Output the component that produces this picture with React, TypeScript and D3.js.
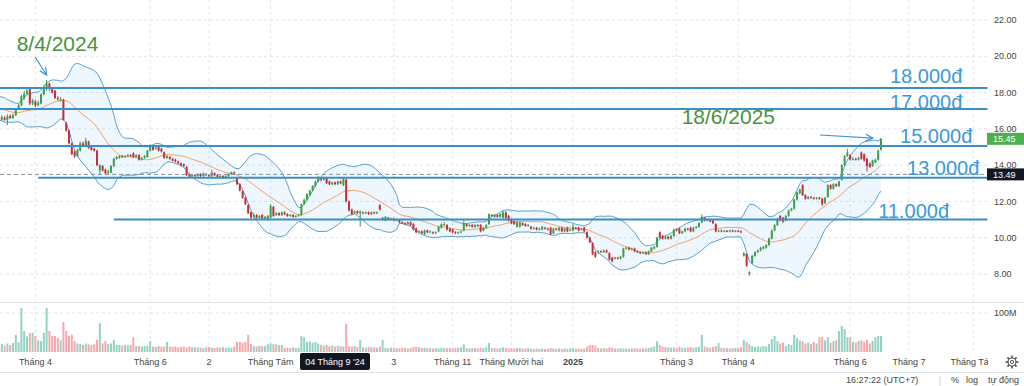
import React from "react";
import * as d3 from "d3";

// ---- OHLC + volume (one entry per trading day) ----
const opens = [
  16.60,16.50,16.60,16.50,16.70,16.60,16.75,17.10,17.30,17.70,
  17.95,18.20,17.40,17.50,17.30,17.40,17.90,18.20,18.50,18.20,
  18.10,17.70,17.55,17.60,16.30,15.90,15.20,14.70,14.50,14.80,
  15.20,15.10,15.30,15.00,14.90,14.80,13.70,13.95,13.75,13.55,
  13.60,13.95,14.35,14.40,14.50,14.45,14.50,14.55,14.65,14.45,
  14.55,14.30,14.40,14.45,14.80,15.05,14.90,15.00,14.90,14.70,
  14.40,14.45,14.35,14.30,14.20,14.10,14.05,13.90,13.50,13.40,
  13.45,13.40,13.50,13.40,13.50,13.45,13.40,13.55,13.45,13.35,
  13.40,13.30,13.40,13.50,13.60,13.30,12.95,12.55,12.20,11.80,
  11.40,11.15,11.25,11.10,11.25,11.05,11.00,11.10,11.70,11.25,
  11.35,11.25,11.40,11.30,11.20,11.25,11.15,11.20,11.25,11.85,
  12.10,12.35,12.60,12.85,13.10,13.25,13.20,13.30,13.10,12.95,
  13.05,12.95,13.10,12.90,13.20,12.00,11.55,11.35,11.45,11.35,
  11.40,11.35,11.40,11.30,11.40,11.35,11.80,11.00,10.95,11.10,
  11.00,11.05,10.95,10.95,10.85,10.80,10.75,10.85,10.75,10.50,
  10.30,10.35,10.20,10.40,10.30,10.30,10.25,10.35,10.55,10.70,
  10.70,10.50,10.45,10.30,10.25,10.30,10.40,10.75,10.65,10.70,
  10.60,10.70,10.70,10.40,10.55,10.75,11.25,11.15,11.25,11.15,
  11.10,11.40,11.20,11.00,10.90,10.60,10.60,10.80,10.75,10.65,
  10.60,10.50,10.55,10.45,10.45,10.55,10.50,10.55,10.25,10.50,
  10.40,10.55,10.35,10.55,10.40,10.40,10.55,10.55,10.45,10.55,
  10.30,10.00,9.70,9.20,9.20,9.25,9.20,9.30,9.15,8.90,
  8.85,8.90,8.85,8.95,9.40,9.45,9.35,9.40,9.25,9.20,
  9.15,9.20,9.10,9.25,9.40,9.50,10.30,10.10,9.95,10.05,
  9.95,10.10,10.45,10.50,10.25,10.35,10.50,10.55,10.35,10.55,
  10.60,10.85,11.10,10.95,11.00,10.95,10.75,10.35,10.40,10.35,
  10.38,10.35,10.40,10.35,10.38,10.35,9.00,9.10,8.00,8.60,
  9.00,9.20,9.30,9.40,9.45,9.60,9.95,10.40,10.70,11.20,
  11.10,10.95,11.20,11.50,11.60,12.10,12.45,12.90,12.35,12.15,
  12.25,12.20,12.15,12.20,12.15,11.90,12.25,12.90,12.70,12.95,
  12.85,13.20,14.00,14.50,14.55,14.30,14.35,14.30,14.70,14.60,
  14.35,14.10,13.95,14.15,14.30,14.85,
];
const highs = [
  16.80,16.75,16.70,16.80,16.80,16.85,17.15,17.40,17.90,18.10,
  18.25,18.30,17.65,17.60,17.55,17.95,18.40,18.70,18.55,18.30,
  18.15,17.80,17.75,17.65,16.40,15.95,15.25,14.80,14.90,15.30,
  15.30,15.50,15.35,15.05,14.95,14.85,14.05,14.00,13.80,13.75,
  14.00,14.40,14.50,14.55,14.55,14.55,14.60,14.60,14.70,14.60,
  14.60,14.45,14.55,14.85,15.15,15.10,15.00,15.05,14.95,14.75,
  14.55,14.50,14.40,14.35,14.25,14.15,14.10,13.95,13.55,13.50,
  13.50,13.55,13.55,13.60,13.55,13.50,13.75,13.60,13.50,13.45,
  13.45,13.45,13.55,13.65,13.65,13.35,13.00,12.60,12.25,11.85,
  11.45,11.35,11.30,11.25,11.30,11.20,11.25,11.85,11.75,11.40,
  11.40,11.45,11.45,11.35,11.30,11.30,11.25,11.30,11.90,12.15,
  12.45,12.65,12.90,13.15,13.40,13.30,13.35,13.35,13.15,13.10,
  13.10,13.15,13.15,13.30,13.25,12.05,11.60,11.50,11.50,11.50,
  11.45,11.45,11.45,11.45,11.45,11.45,11.85,11.15,11.20,11.15,
  11.10,11.10,11.05,11.00,10.90,10.85,10.90,10.90,10.80,10.55,
  10.40,10.40,10.45,10.45,10.40,10.35,10.35,10.65,10.80,10.85,
  10.75,10.55,10.50,10.35,10.35,10.40,10.95,10.80,10.75,10.75,
  10.75,10.75,10.75,10.60,10.75,11.35,11.30,11.30,11.30,11.35,
  11.50,11.45,11.25,11.05,10.95,10.90,10.90,10.85,10.80,10.75,
  10.65,10.60,10.60,10.55,10.65,10.60,10.55,10.60,10.55,10.55,
  10.60,10.60,10.55,10.60,10.50,10.75,10.60,10.60,10.55,10.60,
  10.35,10.05,9.75,9.25,9.30,9.30,9.35,9.35,9.20,8.95,
  8.95,8.95,9.00,9.45,9.50,9.50,9.45,9.45,9.30,9.25,
  9.25,9.25,9.30,9.50,9.55,10.05,10.35,10.15,10.10,10.10,
  10.15,10.50,10.50,10.55,10.40,10.55,10.55,10.60,10.60,10.65,
  10.85,11.30,11.15,11.05,11.05,11.00,10.80,10.45,10.45,10.42,
  10.42,10.45,10.45,10.42,10.42,10.40,9.20,9.15,8.15,9.05,
  9.25,9.35,9.50,9.55,9.65,10.00,10.45,10.75,11.10,11.25,
  11.15,11.25,11.55,11.65,12.15,12.55,12.70,12.95,12.40,12.30,
  12.30,12.25,12.25,12.25,12.20,12.25,12.95,12.95,13.00,13.00,
  13.15,14.05,14.55,14.90,14.60,14.45,14.40,14.45,14.75,14.65,
  14.40,14.15,14.30,14.35,14.85,15.50,
];
const lows = [
  16.40,16.45,16.45,16.20,16.55,16.55,16.70,17.05,17.25,17.60,
  17.85,17.30,17.30,17.20,17.25,17.35,17.85,18.10,18.10,17.95,
  17.65,17.55,17.50,16.45,15.85,15.15,14.55,14.40,14.45,14.75,
  15.05,15.05,14.90,14.80,14.75,13.95,13.50,13.65,13.45,13.50,
  13.55,13.90,14.30,14.35,14.40,14.40,14.45,14.45,14.40,14.40,
  14.25,14.25,14.35,14.40,14.75,14.80,14.85,14.75,14.70,14.35,
  14.35,14.30,14.20,14.15,14.05,13.95,13.90,13.40,13.30,13.30,
  13.35,13.35,13.35,13.35,13.40,13.35,13.35,13.40,13.30,13.30,
  13.25,13.25,13.35,13.45,13.45,12.90,12.55,12.15,11.80,11.30,
  11.05,11.05,11.05,11.05,11.00,11.00,10.95,11.05,11.15,11.20,
  11.20,11.20,11.25,11.15,11.15,11.10,11.10,11.15,11.20,11.80,
  12.05,12.30,12.55,12.80,13.05,13.10,13.15,12.95,12.90,12.90,
  12.90,12.90,12.95,12.85,11.95,11.45,11.25,11.30,11.30,10.60,
  11.30,11.30,11.25,11.25,11.30,11.30,11.50,10.95,10.90,10.95,
  10.95,10.90,10.90,10.80,10.75,10.70,10.70,10.65,10.40,10.25,
  10.25,10.20,10.15,10.25,10.25,10.20,10.20,10.30,10.50,10.65,
  10.40,10.30,10.25,10.20,10.20,10.25,10.35,10.60,10.60,10.55,
  10.55,10.60,10.30,10.35,10.50,10.70,11.15,11.10,11.10,11.10,
  11.05,11.05,10.90,10.75,10.70,10.55,10.55,10.65,10.60,10.60,
  10.45,10.45,10.40,10.40,10.40,10.45,10.40,10.15,10.20,10.40,
  10.35,10.30,10.30,10.30,10.35,10.35,10.45,10.35,10.40,10.30,
  9.95,9.70,9.05,8.90,9.10,9.15,9.15,9.15,8.75,8.65,
  8.80,8.80,8.80,8.90,9.35,9.30,9.30,9.20,9.15,9.10,
  9.10,9.05,9.05,9.20,9.35,9.45,9.95,9.90,9.90,9.90,
  9.90,10.05,10.35,10.20,10.20,10.30,10.40,10.30,10.30,10.50,
  10.55,10.80,10.90,10.90,10.85,10.75,10.30,10.30,10.30,10.30,
  10.30,10.30,10.30,10.30,10.30,10.25,8.95,8.40,7.90,8.55,
  8.95,9.15,9.25,9.35,9.40,9.55,9.90,10.35,10.65,10.90,
  10.80,10.90,11.15,11.45,11.55,12.05,12.40,12.30,12.10,12.10,
  12.15,12.10,12.10,12.10,11.75,11.85,12.20,12.65,12.65,12.80,
  12.80,13.15,13.95,14.45,14.25,14.25,14.25,14.25,14.30,14.20,
  13.65,13.85,13.90,14.10,14.25,14.80,
];
const closes = [
  16.50,16.65,16.50,16.70,16.60,16.75,17.10,17.30,17.80,17.95,
  18.10,17.40,17.55,17.30,17.45,17.90,18.30,18.50,18.20,18.00,
  17.70,17.65,17.60,16.50,15.90,15.20,14.60,14.50,14.85,15.20,
  15.10,15.35,14.95,14.85,14.80,14.00,14.00,13.70,13.55,13.65,
  13.95,14.35,14.45,14.50,14.45,14.50,14.55,14.50,14.45,14.55,
  14.30,14.40,14.50,14.80,15.05,14.85,14.95,14.80,14.75,14.40,
  14.50,14.35,14.25,14.20,14.10,14.00,13.95,13.45,13.35,13.45,
  13.40,13.50,13.40,13.55,13.45,13.40,13.60,13.45,13.35,13.40,
  13.30,13.40,13.50,13.60,13.55,12.95,12.60,12.20,11.85,11.35,
  11.10,11.25,11.10,11.20,11.05,11.15,11.20,11.75,11.20,11.35,
  11.25,11.40,11.30,11.20,11.25,11.15,11.20,11.25,11.85,12.10,
  12.40,12.60,12.85,13.10,13.25,13.20,13.30,13.00,12.95,13.05,
  12.95,13.10,13.00,13.25,12.00,11.50,11.30,11.45,11.35,11.45,
  11.35,11.40,11.30,11.40,11.35,11.40,11.55,11.10,11.15,11.00,
  11.05,10.95,11.00,10.85,10.80,10.75,10.85,10.70,10.45,10.30,
  10.35,10.25,10.40,10.30,10.35,10.25,10.30,10.60,10.75,10.75,
  10.45,10.35,10.30,10.25,10.30,10.35,10.80,10.65,10.70,10.60,
  10.70,10.65,10.35,10.55,10.70,11.30,11.20,11.25,11.15,11.30,
  11.40,11.10,10.95,10.80,10.75,10.85,10.85,10.70,10.65,10.70,
  10.50,10.55,10.45,10.50,10.60,10.50,10.45,10.20,10.50,10.45,
  10.55,10.35,10.50,10.35,10.45,10.60,10.50,10.40,10.50,10.35,
  10.00,9.75,9.10,8.95,9.25,9.20,9.30,9.20,8.80,8.70,
  8.90,8.85,8.95,9.40,9.45,9.35,9.40,9.25,9.20,9.15,
  9.20,9.10,9.25,9.45,9.50,10.00,10.00,9.95,10.05,9.95,
  10.10,10.45,10.40,10.25,10.35,10.50,10.45,10.35,10.55,10.60,
  10.80,11.15,10.95,11.00,10.90,10.80,10.35,10.40,10.35,10.38,
  10.35,10.40,10.35,10.38,10.35,10.30,9.15,8.45,8.10,9.00,
  9.20,9.30,9.45,9.50,9.60,9.95,10.40,10.70,11.05,10.95,
  10.90,11.20,11.50,11.60,12.10,12.50,12.65,12.35,12.15,12.25,
  12.20,12.15,12.20,12.15,11.85,12.20,12.90,12.70,12.95,12.85,
  13.10,14.00,14.50,14.70,14.30,14.35,14.30,14.40,14.35,14.25,
  13.95,13.90,14.25,14.30,14.80,15.45,
];
// volume in millions of shares
const volumes = [
  18,20,15,22,18,23,44,25,113,54,
  40,49,49,41,30,28,49,113,54,41,
  41,36,30,77,54,42,44,28,22,20,
  18,22,20,18,20,31,74,22,28,20,
  22,31,18,18,16,18,17,18,38,15,
  15,14,15,16,28,14,13,15,14,14,
  26,14,13,14,12,13,14,12,14,13,
  12,12,11,10,12,13,11,10,12,11,
  13,10,12,11,14,26,26,24,26,44,
  20,15,14,16,15,15,20,22,20,20,
  18,18,10,11,10,12,10,11,41,38,
  26,28,24,26,22,18,16,18,15,17,
  14,16,15,14,72,15,14,15,13,31,
  12,11,13,12,12,11,14,31,10,9,
  11,10,10,9,11,10,9,10,13,13,
  12,10,11,10,10,9,10,9,11,10,
  10,10,9,10,11,12,20,10,9,10,
  10,9,11,10,12,23,10,10,9,10,
  12,10,9,10,9,10,10,9,9,10,
  8,8,9,8,9,8,8,10,9,8,
  9,8,9,8,9,10,8,9,8,9,
  14,18,18,16,10,9,10,9,12,11,
  9,9,10,9,9,8,9,10,9,8,
  9,9,10,12,14,28,18,14,12,12,
  11,12,10,14,11,10,12,13,11,12,
  14,44,14,12,11,13,15,23,11,10,
  10,9,10,10,11,12,31,26,20,15,
  13,14,13,15,14,20,33,41,28,22,
  24,15,20,18,44,36,30,28,22,24,
  20,26,22,38,38,30,38,24,28,30,
  54,67,59,38,38,26,24,28,30,26,
  31,22,28,38,41,41,
];
// closes before the first visible bar, estimated from where the bands start
const warmupCloses = [17.6,17.5,17.7,17.55,17.4,17.45,17.3,17.35,17.2,17.1,17.25,17.0,16.95,17.05,16.85,16.8,16.9,16.7,16.75];

const priceTicks = [8, 10, 12, 14, 16, 18, 20, 22];
const timeTickIndex = [13, 54, 75, 97, 141, 162, 183, 205, 242, 264, 304, 325, 348];
const timeTickLabels = ["Tháng 4", "Tháng 6", "2", "Tháng Tám", "3", "Tháng 11", "Tháng Mười hai", "2025", "Tháng 3", "Tháng 4", "Tháng 6", "Tháng 7", "Tháng Tám"];

// user-drawn horizontal levels
const levelPrices = [18.25, 17.09, 15.05, 13.3, 11.0];
const levelStartIndex = [0, 0, 0, 14, 41];
const levelEndIndex = 353;
const levelLabels = ["18.000đ", "17.000đ", "15.000đ", "13.000đ", "11.000đ"];
const levelLabelIndex = [318.2, 318.2, 321.8, 324.3, 314];
const levelLabelPrice = [18.53, 17.07, 15.22, 13.46, 11.11];

const dateNotes = ["8/4/2024", "18/6/2025"];
const dateNoteIndex = [6.3, 243.8];
const dateNotePrice = [20.3, 16.25];
const arrowTail = [[12.9, 19.96], [293.2, 15.66]];
const arrowTip = [[17.0, 18.97], [312.1, 15.49]];

const crosshairPrice = 13.49;
const crosshairIndex = 120;
const crosshairDate = "04 Tháng 9 '24";
const lastPrice = 15.45;

const FONT = "'Liberation Sans', Arial, sans-serif";
const UP = "#3f9e4a";
const DOWN = "#c2303a";
const VUP = "#93d3c3";
const VDOWN = "#f5a9ae";
const LEVEL = "#3b8fc4";

export default function App() {
  const n = closes.length;
  const x = d3.scaleLinear().domain([0, n - 1]).range([-1, 881]);
  const y = d3.scaleLinear().domain([8, 22]).range([274, 20]);
  const yv = d3.scaleLinear().domain([0, 100]).range([352, 313]);

  const all = warmupCloses.concat(closes);
  const bb = closes.map((_, i) => {
    const k = warmupCloses.length + i;
    const win = all.slice(k - 19, k + 1);
    const m = d3.mean(win) as number;
    const sd = Math.sqrt(d3.mean(win, (v) => (v - m) * (v - m)) as number);
    return { i, m, up: m + 2 * sd, lo: m - 2 * sd };
  });

  const area = d3.area<any>().x((d) => x(d.i)).y0((d) => y(d.lo)).y1((d) => y(d.up));
  const lineUp = d3.line<any>().x((d) => x(d.i)).y((d) => y(d.up));
  const lineLo = d3.line<any>().x((d) => x(d.i)).y((d) => y(d.lo));
  const lineMid = d3.line<any>().x((d) => x(d.i)).y((d) => y(d.m));

  const bodyW = 2;
  const volW = 2;

  const arrowHead = (tx: number, ty: number, fx: number, fy: number) => {
    const a = Math.atan2(ty - fy, tx - fx);
    const L = 8, s = 0.45;
    const p1 = [tx - L * Math.cos(a - s), ty - L * Math.sin(a - s)];
    const p2 = [tx - L * Math.cos(a + s), ty - L * Math.sin(a + s)];
    return `M${p1[0]},${p1[1]}L${tx},${ty}L${p2[0]},${p2[1]}`;
  };

  const gearTeeth = d3.range(8).map((k) => {
    const a = (k * Math.PI) / 4;
    return { x1: 1012 + 4 * Math.cos(a), y1: 362 + 4 * Math.sin(a), x2: 1012 + 6.5 * Math.cos(a), y2: 362 + 6.5 * Math.sin(a) };
  });

  return (
    <svg width={1024} height={386} style={{ position: "fixed", left: 0, top: 0, background: "#fff" }} fontFamily={FONT}>
      <defs>
        <clipPath id="main"><rect x={0} y={0} width={988} height={302} /></clipPath>
        <clipPath id="vol"><rect x={0} y={303} width={988} height={50} /></clipPath>
        <clipPath id="axis"><rect x={0} y={352} width={988} height={20} /></clipPath>
      </defs>

      {/* grid */}
      {priceTicks.map((p) => (
        <line key={"hg" + p} x1={0} x2={988} y1={y(p)} y2={y(p)} stroke="#e3e5ea" strokeDasharray="3,3" />
      ))}
      <line x1={0} x2={988} y1={yv(100)} y2={yv(100)} stroke="#e3e5ea" strokeDasharray="3,3" />
      {timeTickIndex.map((t) => (
        <line key={"vg" + t} x1={x(t)} x2={x(t)} y1={0} y2={352} stroke="#e3e5ea" strokeDasharray="3,3" />
      ))}

      <g clipPath="url(#main)">
        {/* Bollinger */}
        <path d={area(bb) || ""} fill="rgba(33,150,243,0.08)" />
        <path d={lineUp(bb) || ""} fill="none" stroke="#5c9fcc" strokeWidth={1} />
        <path d={lineLo(bb) || ""} fill="none" stroke="#5c9fcc" strokeWidth={1} />
        <path d={lineMid(bb) || ""} fill="none" stroke="#f0a268" strokeWidth={1} />

        {/* candles */}
        {closes.map((c, i) => {
          const o = opens[i];
          const col = c >= o ? UP : DOWN;
          const top = y(Math.max(o, c));
          const h = Math.max(1, Math.abs(y(o) - y(c)));
          return (
            <g key={"c" + i}>
              <line x1={x(i)} x2={x(i)} y1={y(highs[i])} y2={y(lows[i])} stroke={col} strokeWidth={1} />
              <rect x={x(i) - bodyW / 2} y={top} width={bodyW} height={h} fill={col} />
            </g>
          );
        })}

        {/* levels */}
        {levelPrices.map((p, k) => (
          <line key={"lv" + k} x1={x(levelStartIndex[k])} x2={x(levelEndIndex)} y1={y(p)} y2={y(p)} stroke={LEVEL} strokeWidth={2} />
        ))}

        {/* crosshair */}
        <line x1={0} x2={988} y1={y(crosshairPrice)} y2={y(crosshairPrice)} stroke="#8a8e99" strokeDasharray="4,3" strokeWidth={1} />

        {/* annotations */}
        {levelLabels.map((t, k) => (
          <text key={"ll" + k} x={x(levelLabelIndex[k])} y={y(levelLabelPrice[k])} fontSize={20} fill="#3d9ad6">{t}</text>
        ))}
        {dateNotes.map((t, k) => (
          <text key={"dn" + k} x={x(dateNoteIndex[k])} y={y(dateNotePrice[k])} fontSize={21} fill="#4a9140">{t}</text>
        ))}
        {arrowTail.map((a, k) => {
          const fx = x(a[0]), fy = y(a[1]), tx = x(arrowTip[k][0]), ty = y(arrowTip[k][1]);
          return (
            <g key={"ar" + k} stroke="#3a95d0" strokeWidth={1.2} fill="none">
              <line x1={fx} y1={fy} x2={tx} y2={ty} />
              <path d={arrowHead(tx, ty, fx, fy)} />
            </g>
          );
        })}
      </g>

      {/* volume */}
      <line x1={0} x2={1024} y1={302.5} y2={302.5} stroke="#e0e3eb" />
      <g clipPath="url(#vol)">
        {volumes.map((v, i) => (
          <rect key={"v" + i} x={x(i) - volW / 2} y={yv(v)} width={volW} height={yv(0) - yv(v)} fill={closes[i] >= opens[i] ? VUP : VDOWN} />
        ))}
      </g>

      {/* price axis */}
      {priceTicks.map((p) => (
        <text key={"pt" + p} x={994} y={y(p)} dy="0.35em" fontSize={9} fill="#444">{p.toFixed(2)}</text>
      ))}
      <text x={994} y={yv(100)} dy="0.35em" fontSize={9} fill="#444">100M</text>
      <rect x={987} y={y(lastPrice) - 6} width={37} height={12} fill="#4caf50" />
      <text x={993} y={y(lastPrice)} dy="0.35em" fontSize={9} fill="#fff">{lastPrice.toFixed(2)}</text>
      <rect x={987} y={y(crosshairPrice) - 6} width={37} height={12} fill="#131722" />
      <text x={993} y={y(crosshairPrice)} dy="0.35em" fontSize={9} fill="#fff">{crosshairPrice.toFixed(2)}</text>

      {/* time axis */}
      <g clipPath="url(#axis)">
        {timeTickIndex.map((t, k) => (
          <text key={"tt" + k} x={x(t)} y={365} textAnchor="middle" fontSize={9} fill="#444" fontWeight={timeTickLabels[k] === "2025" ? "bold" : "normal"}>{timeTickLabels[k]}</text>
        ))}
      </g>
      <rect x={x(crosshairIndex) - 35} y={353} width={70} height={17} rx={2} fill="#131722" />
      <text x={x(crosshairIndex)} y={365} textAnchor="middle" fontSize={9} fill="#fff">{crosshairDate}</text>
      <line x1={0} x2={1024} y1={372.5} y2={372.5} stroke="#e0e3eb" />

      {/* gear */}
      <circle cx={1012} cy={362} r={4} fill="none" stroke="#555" strokeWidth={1.2} />
      <circle cx={1012} cy={362} r={1.6} fill="none" stroke="#555" strokeWidth={1} />
      {gearTeeth.map((g, k) => (
        <line key={"g" + k} x1={g.x1} y1={g.y1} x2={g.x2} y2={g.y2} stroke="#555" strokeWidth={1.6} />
      ))}

      {/* bottom bar */}
      <text x={846} y={383} fontSize={9} fill="#444">16:27:22 (UTC+7)</text>
      <line x1={940} x2={940} y1={376} y2={386} stroke="#d0d3da" />
      <text x={951} y={383} fontSize={9} fill="#444">%</text>
      <text x={966} y={383} fontSize={9} fill="#444">log</text>
      <text x={988} y={383} fontSize={9} fill="#444">tự động</text>
    </svg>
  );
}
